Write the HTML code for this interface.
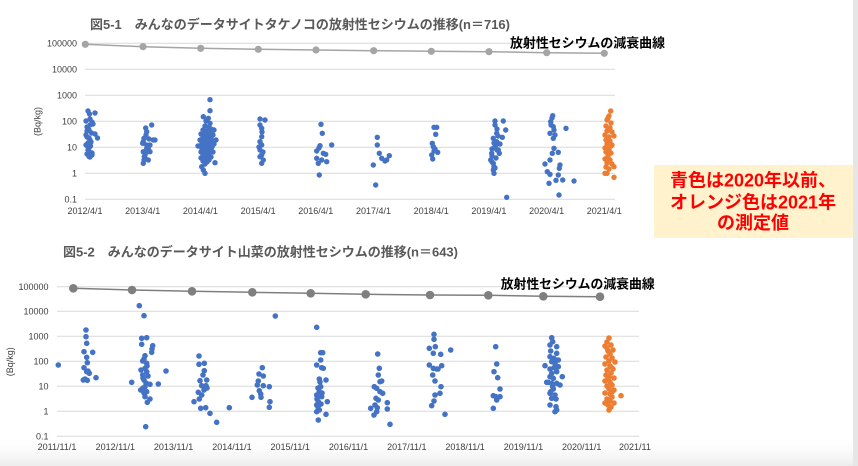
<!DOCTYPE html>
<html><head><meta charset="utf-8"><style>
html,body{margin:0;padding:0;background:#fff;}
svg{display:block;}
text{font-family:"Liberation Sans","Noto Sans CJK JP",sans-serif;}
</style></head><body>
<svg width="858" height="466" viewBox="0 0 858 466" xmlns="http://www.w3.org/2000/svg">
<defs>
<linearGradient id="bg" x1="0" y1="0" x2="0" y2="1"><stop offset="0" stop-color="#ffffff" stop-opacity="0"/><stop offset="1" stop-color="#ececec"/></linearGradient>
</defs>
<rect x="0" y="0" width="858" height="466" fill="#fff"/>
<rect x="0" y="436" width="853" height="30" fill="url(#bg)"/>
<rect x="853" y="0" width="5" height="466" fill="#e6e6e6"/>

<!-- TOP CHART -->
<text x="90" y="29" font-size="13" font-weight="bold" fill="#595959" textLength="420" lengthAdjust="spacingAndGlyphs">図5-1　みんなのデータサイトタケノコの放射性セシウムの推移(n＝716)</text>
<g stroke="#d9d9d9" stroke-width="1">
<line x1="85" y1="43.3" x2="615" y2="43.3"/><line x1="85" y1="69.3" x2="615" y2="69.3"/><line x1="85" y1="95.3" x2="615" y2="95.3"/><line x1="85" y1="121.3" x2="615" y2="121.3"/><line x1="85" y1="147.3" x2="615" y2="147.3"/><line x1="85" y1="173.3" x2="615" y2="173.3"/><line x1="85" y1="199.3" x2="615" y2="199.3"/>
</g>
<g font-size="9" fill="#404040" text-anchor="end">
<text x="77" y="46.5">100000</text><text x="77" y="72.5">10000</text><text x="77" y="98.5">1000</text><text x="77" y="124.5">100</text><text x="77" y="150.5">10</text><text x="77" y="176.5">1</text><text x="77" y="202.5">0.1</text>
</g>
<text transform="translate(40.5,121.5) rotate(-90)" font-size="9" fill="#404040" text-anchor="middle">(Bq/kg)</text>
<g font-size="9" fill="#404040" text-anchor="middle">
<text x="85" y="214">2012/4/1</text><text x="142.7" y="214">2013/4/1</text><text x="200.4" y="214">2014/4/1</text><text x="258.1" y="214">2015/4/1</text><text x="315.8" y="214">2016/4/1</text><text x="373.5" y="214">2017/4/1</text><text x="431.2" y="214">2018/4/1</text><text x="488.9" y="214">2019/4/1</text><text x="546.6" y="214">2020/4/1</text><text x="604.3" y="214">2021/4/1</text>
</g>
<polyline points="85.3,44.3 143,46.7 200.7,48.3 258.3,49.3 316,50 373.7,50.7 431.3,51.3 489,51.7 546.7,52.7 604.3,53.3" fill="none" stroke="#a5a5a5" stroke-width="1.5"/>
<g fill="#a5a5a5">
<circle cx="85.3" cy="44.3" r="3.6"/><circle cx="143" cy="46.7" r="3.6"/><circle cx="200.7" cy="48.3" r="3.6"/><circle cx="258.3" cy="49.3" r="3.6"/><circle cx="316" cy="50" r="3.6"/><circle cx="373.7" cy="50.7" r="3.6"/><circle cx="431.3" cy="51.3" r="3.6"/><circle cx="489" cy="51.7" r="3.6"/><circle cx="546.7" cy="52.7" r="3.6"/><circle cx="604.3" cy="53.3" r="3.6"/>
</g>
<text x="510" y="47.5" font-size="13" font-weight="bold" fill="#000" textLength="155" lengthAdjust="spacingAndGlyphs">放射性セシウムの減衰曲線</text>

<g fill="#4472c4">
<!-- 2012 -->
<circle cx="88" cy="111" r="2.7"/><circle cx="89.5" cy="114" r="2.7"/><circle cx="95" cy="113" r="2.7"/><circle cx="86" cy="121" r="2.7"/><circle cx="90" cy="119" r="2.7"/><circle cx="92" cy="122" r="2.7"/><circle cx="93" cy="124" r="2.7"/><circle cx="87" cy="127" r="2.7"/><circle cx="89" cy="130" r="2.7"/><circle cx="86" cy="135" r="2.7"/><circle cx="91.5" cy="133" r="2.7"/><circle cx="95" cy="134" r="2.7"/><circle cx="97.5" cy="138" r="2.7"/><circle cx="87" cy="137" r="2.7"/><circle cx="90" cy="140" r="2.7"/><circle cx="88" cy="143" r="2.7"/><circle cx="90.5" cy="146" r="2.7"/><circle cx="88" cy="150" r="2.7"/><circle cx="90" cy="152.5" r="2.7"/><circle cx="87" cy="154" r="2.7"/><circle cx="89" cy="156.5" r="2.7"/><circle cx="92" cy="155" r="2.7"/><circle cx="88" cy="147" r="2.7"/><circle cx="91" cy="142" r="2.7"/><circle cx="89" cy="138" r="2.7"/><circle cx="87" cy="131" r="2.7"/><circle cx="90" cy="125" r="2.7"/><circle cx="86" cy="145" r="2.7"/><circle cx="89" cy="148" r="2.7"/><circle cx="92" cy="153" r="2.7"/><circle cx="90" cy="157" r="2.7"/>
<!-- 2013 -->
<circle cx="145.7" cy="128" r="2.7"/><circle cx="151.7" cy="125" r="2.7"/><circle cx="146.7" cy="131.7" r="2.7"/><circle cx="144" cy="138.3" r="2.7"/><circle cx="153.3" cy="140" r="2.7"/><circle cx="155" cy="140" r="2.7"/><circle cx="143.3" cy="141.7" r="2.7"/><circle cx="142.7" cy="143.3" r="2.7"/><circle cx="146.7" cy="145" r="2.7"/><circle cx="150" cy="145" r="2.7"/><circle cx="148.3" cy="148.3" r="2.7"/><circle cx="146.7" cy="148.3" r="2.7"/><circle cx="150" cy="151.7" r="2.7"/><circle cx="143.3" cy="151.7" r="2.7"/><circle cx="145" cy="155" r="2.7"/><circle cx="144.3" cy="156.7" r="2.7"/><circle cx="148.3" cy="160" r="2.7"/><circle cx="143.3" cy="163.3" r="2.7"/><circle cx="144" cy="160" r="2.7"/><circle cx="146" cy="135" r="2.7"/><circle cx="145" cy="158" r="2.7"/><circle cx="147" cy="152" r="2.7"/><circle cx="149" cy="139" r="2.7"/>
<!-- 2014 -->
<circle cx="210" cy="99.7" r="2.7"/><circle cx="210" cy="110.7" r="2.7"/><circle cx="203.3" cy="116.7" r="2.7"/><circle cx="208.3" cy="118.3" r="2.7"/><circle cx="210" cy="123.3" r="2.7"/><circle cx="206" cy="121" r="2.7"/>
<circle cx="205" cy="126" r="2.7"/><circle cx="209" cy="127" r="2.7"/><circle cx="211" cy="129" r="2.7"/><circle cx="203" cy="130" r="2.7"/><circle cx="207" cy="131" r="2.7"/><circle cx="212" cy="132" r="2.7"/><circle cx="201" cy="134" r="2.7"/><circle cx="205" cy="134" r="2.7"/><circle cx="209" cy="135" r="2.7"/><circle cx="213" cy="135" r="2.7"/><circle cx="203" cy="137" r="2.7"/><circle cx="207" cy="138" r="2.7"/><circle cx="211" cy="138" r="2.7"/><circle cx="200" cy="140" r="2.7"/><circle cx="204" cy="140" r="2.7"/><circle cx="208" cy="141" r="2.7"/><circle cx="212" cy="141" r="2.7"/><circle cx="202" cy="143" r="2.7"/><circle cx="206" cy="143" r="2.7"/><circle cx="210" cy="144" r="2.7"/><circle cx="214" cy="144" r="2.7"/><circle cx="200" cy="146" r="2.7"/><circle cx="204" cy="146" r="2.7"/><circle cx="208" cy="147" r="2.7"/><circle cx="212" cy="147" r="2.7"/><circle cx="202" cy="149" r="2.7"/><circle cx="206" cy="150" r="2.7"/><circle cx="210" cy="150" r="2.7"/><circle cx="201" cy="152" r="2.7"/><circle cx="205" cy="153" r="2.7"/><circle cx="209" cy="153" r="2.7"/><circle cx="213" cy="152" r="2.7"/><circle cx="203" cy="155" r="2.7"/><circle cx="207" cy="156" r="2.7"/><circle cx="211" cy="157" r="2.7"/><circle cx="201" cy="158" r="2.7"/><circle cx="205" cy="159" r="2.7"/><circle cx="209" cy="160" r="2.7"/><circle cx="203" cy="161" r="2.7"/><circle cx="207" cy="162" r="2.7"/><circle cx="215" cy="162.7" r="2.7"/><circle cx="201.7" cy="166.7" r="2.7"/><circle cx="205" cy="164" r="2.7"/><circle cx="203.3" cy="170" r="2.7"/><circle cx="205" cy="173.3" r="2.7"/><circle cx="198" cy="146" r="2.7"/><circle cx="216" cy="140" r="2.7"/><circle cx="214" cy="130" r="2.7"/>
<!-- 2015 -->
<circle cx="260" cy="119" r="2.7"/><circle cx="265" cy="120" r="2.7"/><circle cx="260" cy="125" r="2.7"/><circle cx="261.7" cy="128.3" r="2.7"/><circle cx="261.7" cy="136.7" r="2.7"/><circle cx="260" cy="141.7" r="2.7"/><circle cx="261.7" cy="145" r="2.7"/><circle cx="260" cy="150" r="2.7"/><circle cx="261.7" cy="155" r="2.7"/><circle cx="263.3" cy="160" r="2.7"/><circle cx="261.7" cy="163.3" r="2.7"/><circle cx="260" cy="156.7" r="2.7"/><circle cx="259" cy="147" r="2.7"/><circle cx="262" cy="132" r="2.7"/><circle cx="263" cy="152" r="2.7"/>
<!-- 2016 -->
<circle cx="321" cy="124.3" r="2.7"/><circle cx="322.3" cy="133.3" r="2.7"/><circle cx="331.7" cy="145" r="2.7"/><circle cx="320" cy="145.7" r="2.7"/><circle cx="316.7" cy="151" r="2.7"/><circle cx="323.3" cy="153.3" r="2.7"/><circle cx="325.7" cy="154.3" r="2.7"/><circle cx="316.7" cy="158.3" r="2.7"/><circle cx="321.7" cy="160" r="2.7"/><circle cx="326.7" cy="161.7" r="2.7"/><circle cx="318.3" cy="163.3" r="2.7"/><circle cx="319.3" cy="175" r="2.7"/><circle cx="319" cy="148" r="2.7"/>
<!-- 2017 -->
<circle cx="377.3" cy="137.3" r="2.7"/><circle cx="377.3" cy="145" r="2.7"/><circle cx="379.3" cy="153.3" r="2.7"/><circle cx="381.7" cy="158.3" r="2.7"/><circle cx="385" cy="161" r="2.7"/><circle cx="386.7" cy="160" r="2.7"/><circle cx="389.3" cy="155.7" r="2.7"/><circle cx="373.3" cy="165" r="2.7"/><circle cx="375.7" cy="185" r="2.7"/>
<!-- 2018 -->
<circle cx="436.7" cy="127.3" r="2.7"/><circle cx="434" cy="127.3" r="2.7"/><circle cx="435.7" cy="134.3" r="2.7"/><circle cx="432.3" cy="143.3" r="2.7"/><circle cx="433.3" cy="146.7" r="2.7"/><circle cx="435" cy="149" r="2.7"/><circle cx="437.7" cy="152.3" r="2.7"/><circle cx="431.7" cy="155" r="2.7"/><circle cx="432.7" cy="159" r="2.7"/><circle cx="434" cy="151" r="2.7"/>
<!-- 2019 -->
<circle cx="495" cy="121" r="2.7"/><circle cx="503.3" cy="121" r="2.7"/><circle cx="495" cy="125" r="2.7"/><circle cx="505.7" cy="130" r="2.7"/><circle cx="496.7" cy="133.3" r="2.7"/><circle cx="502.3" cy="137.3" r="2.7"/><circle cx="493.3" cy="138.3" r="2.7"/><circle cx="496.7" cy="141.7" r="2.7"/><circle cx="495" cy="146.7" r="2.7"/><circle cx="498.3" cy="150" r="2.7"/><circle cx="491.7" cy="153.3" r="2.7"/><circle cx="499.3" cy="153.3" r="2.7"/><circle cx="490.7" cy="160" r="2.7"/><circle cx="493.3" cy="163.3" r="2.7"/><circle cx="494" cy="166.7" r="2.7"/><circle cx="493.3" cy="170" r="2.7"/><circle cx="494" cy="173.3" r="2.7"/><circle cx="506.7" cy="197.3" r="2.7"/><circle cx="497" cy="129" r="2.7"/><circle cx="498" cy="136" r="2.7"/><circle cx="494" cy="143" r="2.7"/><circle cx="496" cy="145" r="2.7"/><circle cx="492" cy="156" r="2.7"/><circle cx="496" cy="158" r="2.7"/><circle cx="492" cy="162" r="2.7"/><circle cx="495" cy="168" r="2.7"/><circle cx="500" cy="144" r="2.7"/><circle cx="497" cy="150" r="2.7"/><circle cx="492" cy="149" r="2.7"/>
<!-- 2020 -->
<circle cx="552.7" cy="115.7" r="2.7"/><circle cx="550.7" cy="121.7" r="2.7"/><circle cx="553.3" cy="126.7" r="2.7"/><circle cx="566" cy="128.3" r="2.7"/><circle cx="550" cy="133.3" r="2.7"/><circle cx="553.3" cy="138.3" r="2.7"/><circle cx="554" cy="148.3" r="2.7"/><circle cx="552.3" cy="153.3" r="2.7"/><circle cx="558.3" cy="152.3" r="2.7"/><circle cx="550" cy="160" r="2.7"/><circle cx="545" cy="164" r="2.7"/><circle cx="560" cy="165" r="2.7"/><circle cx="559.3" cy="168.3" r="2.7"/><circle cx="547.3" cy="171.7" r="2.7"/><circle cx="550" cy="174.3" r="2.7"/><circle cx="558.3" cy="175" r="2.7"/><circle cx="556" cy="180.3" r="2.7"/><circle cx="562.7" cy="180" r="2.7"/><circle cx="549" cy="183.3" r="2.7"/><circle cx="574" cy="181" r="2.7"/><circle cx="559" cy="195" r="2.7"/><circle cx="552" cy="118" r="2.7"/><circle cx="554" cy="130" r="2.7"/><circle cx="551" cy="125" r="2.7"/><circle cx="555" cy="135" r="2.7"/>
</g>
<g fill="#ed7d31">
<circle cx="610.7" cy="111" r="2.7"/><circle cx="609" cy="116" r="2.7"/><circle cx="607" cy="120" r="2.7"/><circle cx="611" cy="123" r="2.7"/><circle cx="606" cy="126" r="2.7"/><circle cx="610" cy="128" r="2.7"/><circle cx="607" cy="131" r="2.7"/><circle cx="612" cy="132" r="2.7"/><circle cx="605" cy="135" r="2.7"/><circle cx="609" cy="137" r="2.7"/><circle cx="614" cy="136" r="2.7"/><circle cx="606" cy="140" r="2.7"/><circle cx="610" cy="141" r="2.7"/><circle cx="607" cy="144" r="2.7"/><circle cx="612" cy="145" r="2.7"/><circle cx="605" cy="148" r="2.7"/><circle cx="609" cy="149" r="2.7"/><circle cx="606" cy="152" r="2.7"/><circle cx="611" cy="153" r="2.7"/><circle cx="608" cy="156" r="2.7"/><circle cx="605" cy="159" r="2.7"/><circle cx="610" cy="160" r="2.7"/><circle cx="607" cy="163" r="2.7"/><circle cx="612" cy="164" r="2.7"/><circle cx="606" cy="167" r="2.7"/><circle cx="609" cy="169" r="2.7"/><circle cx="614" cy="166.7" r="2.7"/><circle cx="605" cy="173.3" r="2.7"/><circle cx="607" cy="173.3" r="2.7"/><circle cx="614" cy="177.3" r="2.7"/><circle cx="608" cy="118" r="2.7"/><circle cx="611" cy="146" r="2.7"/><circle cx="608" cy="160" r="2.7"/>
</g>

<!-- NOTE BOX -->
<rect x="654" y="165" width="199" height="73" fill="#fff2cc"/>
<g font-size="18" font-weight="bold" fill="#ff0000" text-anchor="middle">
<text x="753" y="186.5">青色は2020年以前、</text>
<text x="753" y="208.5">オレンジ色は2021年</text>
<text x="753" y="229">の測定値</text>
</g>

<!-- BOTTOM CHART -->
<text x="63" y="256.5" font-size="13" font-weight="bold" fill="#595959" textLength="395" lengthAdjust="spacingAndGlyphs">図5-2　みんなのデータサイト山菜の放射性セシウムの推移(n＝643)</text>
<g stroke="#d9d9d9" stroke-width="1">
<line x1="57" y1="286.7" x2="639" y2="286.7"/><line x1="57" y1="311.3" x2="639" y2="311.3"/><line x1="57" y1="336.3" x2="639" y2="336.3"/><line x1="57" y1="361.3" x2="639" y2="361.3"/><line x1="57" y1="386.3" x2="639" y2="386.3"/><line x1="57" y1="411.3" x2="639" y2="411.3"/><line x1="57" y1="436.3" x2="639" y2="436.3"/>
</g>
<g font-size="9" fill="#404040" text-anchor="end">
<text x="48.5" y="289.9">100000</text><text x="48.5" y="314.5">10000</text><text x="48.5" y="339.5">1000</text><text x="48.5" y="364.5">100</text><text x="48.5" y="389.5">10</text><text x="48.5" y="414.5">1</text><text x="48.5" y="439.5">0.1</text>
</g>
<text transform="translate(13,361.7) rotate(-90)" font-size="9" fill="#404040" text-anchor="middle">(Bq/kg)</text>
<g font-size="9" fill="#404040" text-anchor="middle">
<text x="57" y="450">2011/11/1</text><text x="115.3" y="450">2012/11/1</text><text x="173.6" y="450">2013/11/1</text><text x="231.9" y="450">2014/11/1</text><text x="290.2" y="450">2015/11/1</text><text x="348.5" y="450">2016/11/1</text><text x="406.8" y="450">2017/11/1</text><text x="465.1" y="450">2018/11/1</text><text x="523.4" y="450">2019/11/1</text><text x="581.7" y="450">2020/11/1</text>
</g>
<text x="619" y="450" font-size="9" fill="#404040">2021/11</text>
<polyline points="73.3,288.3 132,290 192,291.3 252.3,292.3 310.7,293.3 365.7,294.3 430,295 488.3,295.3 543.3,296.3 600,296.7" fill="none" stroke="#7f7f7f" stroke-width="1.5"/>
<g fill="#7f7f7f">
<circle cx="73.3" cy="288.3" r="4.3"/><circle cx="132" cy="290" r="4.3"/><circle cx="192" cy="291.3" r="4.3"/><circle cx="252.3" cy="292.3" r="4.3"/><circle cx="310.7" cy="293.3" r="4.3"/><circle cx="365.7" cy="294.3" r="4.3"/><circle cx="430" cy="295" r="4.3"/><circle cx="488.3" cy="295.3" r="4.3"/><circle cx="543.3" cy="296.3" r="4.3"/><circle cx="600" cy="296.7" r="4.3"/>
</g>
<text x="500.7" y="288.3" font-size="13" font-weight="bold" fill="#000" textLength="154" lengthAdjust="spacingAndGlyphs">放射性セシウムの減衰曲線</text>

<g fill="#4472c4">
<circle cx="58.3" cy="365" r="2.8"/>
<!-- 2012 -->
<circle cx="86" cy="330" r="2.8"/><circle cx="86" cy="336.7" r="2.8"/><circle cx="86.7" cy="343.3" r="2.8"/><circle cx="84" cy="351.7" r="2.8"/><circle cx="92.7" cy="352.3" r="2.8"/><circle cx="86.7" cy="357.3" r="2.8"/><circle cx="87.3" cy="362.7" r="2.8"/><circle cx="84" cy="367.7" r="2.8"/><circle cx="86.7" cy="371.7" r="2.8"/><circle cx="89.3" cy="373.3" r="2.8"/><circle cx="96" cy="377.7" r="2.8"/><circle cx="83.3" cy="380" r="2.8"/><circle cx="87.3" cy="380.3" r="2.8"/><circle cx="88" cy="371" r="2.8"/><circle cx="85" cy="379" r="2.8"/>
<!-- 2013 -->
<circle cx="139.3" cy="305.7" r="2.8"/><circle cx="144" cy="315.7" r="2.8"/><circle cx="141.7" cy="338.3" r="2.8"/><circle cx="146.7" cy="337.7" r="2.8"/><circle cx="141.7" cy="344.3" r="2.8"/><circle cx="152.7" cy="345.7" r="2.8"/><circle cx="151.7" cy="352.3" r="2.8"/><circle cx="145" cy="355.7" r="2.8"/><circle cx="142.7" cy="361" r="2.8"/><circle cx="146.7" cy="363.3" r="2.8"/><circle cx="145" cy="368.3" r="2.8"/><circle cx="166" cy="371" r="2.8"/><circle cx="146.7" cy="371.7" r="2.8"/><circle cx="142.7" cy="375" r="2.8"/><circle cx="144" cy="380" r="2.8"/><circle cx="131.7" cy="382.3" r="2.8"/><circle cx="150" cy="384.3" r="2.8"/><circle cx="158.3" cy="384" r="2.8"/><circle cx="145" cy="386.7" r="2.8"/><circle cx="140.7" cy="390" r="2.8"/><circle cx="146.7" cy="391.7" r="2.8"/><circle cx="145" cy="396.7" r="2.8"/><circle cx="150" cy="399" r="2.8"/><circle cx="147.3" cy="402.3" r="2.8"/><circle cx="145.7" cy="426.7" r="2.8"/><circle cx="144" cy="359" r="2.8"/><circle cx="147" cy="366" r="2.8"/><circle cx="143" cy="378" r="2.8"/><circle cx="146" cy="383" r="2.8"/><circle cx="143" cy="388" r="2.8"/><circle cx="148" cy="376" r="2.8"/><circle cx="144" cy="393" r="2.8"/><circle cx="152" cy="349" r="2.8"/><circle cx="141" cy="370" r="2.8"/>
<!-- 2014 -->
<circle cx="199" cy="356" r="2.8"/><circle cx="199" cy="364.3" r="2.8"/><circle cx="204.3" cy="363.3" r="2.8"/><circle cx="204.3" cy="370.7" r="2.8"/><circle cx="200" cy="380.7" r="2.8"/><circle cx="206.7" cy="380" r="2.8"/><circle cx="201.7" cy="385.7" r="2.8"/><circle cx="206" cy="385.7" r="2.8"/><circle cx="204" cy="390" r="2.8"/><circle cx="198.3" cy="392.3" r="2.8"/><circle cx="201.7" cy="395" r="2.8"/><circle cx="199.3" cy="399" r="2.8"/><circle cx="194" cy="401.7" r="2.8"/><circle cx="200.7" cy="408.3" r="2.8"/><circle cx="205.7" cy="407.7" r="2.8"/><circle cx="210" cy="413.3" r="2.8"/><circle cx="216.7" cy="422.3" r="2.8"/><circle cx="229.3" cy="407.7" r="2.8"/><circle cx="203" cy="375" r="2.8"/><circle cx="207" cy="388" r="2.8"/>
<!-- 2015 -->
<circle cx="275.3" cy="316" r="2.8"/><circle cx="262.3" cy="367.7" r="2.8"/><circle cx="259" cy="374" r="2.8"/><circle cx="263.3" cy="376" r="2.8"/><circle cx="258.3" cy="381" r="2.8"/><circle cx="257.3" cy="385" r="2.8"/><circle cx="263.3" cy="385.7" r="2.8"/><circle cx="269.3" cy="386.7" r="2.8"/><circle cx="259.3" cy="390.7" r="2.8"/><circle cx="260.7" cy="394" r="2.8"/><circle cx="252" cy="397.3" r="2.8"/><circle cx="261" cy="397.3" r="2.8"/><circle cx="270" cy="401.7" r="2.8"/><circle cx="269.3" cy="407.3" r="2.8"/>
<!-- 2016 -->
<circle cx="316.7" cy="327.3" r="2.8"/><circle cx="320.7" cy="352.7" r="2.8"/><circle cx="322.7" cy="352.7" r="2.8"/><circle cx="320.7" cy="360" r="2.8"/><circle cx="316.7" cy="365" r="2.8"/><circle cx="321.7" cy="367.7" r="2.8"/><circle cx="323.3" cy="368.3" r="2.8"/><circle cx="319.3" cy="379" r="2.8"/><circle cx="326" cy="380" r="2.8"/><circle cx="320.7" cy="386.7" r="2.8"/><circle cx="319.3" cy="391.7" r="2.8"/><circle cx="316.7" cy="395" r="2.8"/><circle cx="321.7" cy="396.7" r="2.8"/><circle cx="318.3" cy="401.7" r="2.8"/><circle cx="327.3" cy="401.7" r="2.8"/><circle cx="316.7" cy="405" r="2.8"/><circle cx="319.3" cy="410" r="2.8"/><circle cx="316.7" cy="411.7" r="2.8"/><circle cx="326" cy="414.3" r="2.8"/><circle cx="318.3" cy="420" r="2.8"/><circle cx="320" cy="382" r="2.8"/><circle cx="318" cy="388" r="2.8"/><circle cx="322" cy="393" r="2.8"/><circle cx="317" cy="399" r="2.8"/><circle cx="321" cy="404" r="2.8"/><circle cx="318" cy="407" r="2.8"/>
<!-- 2017 -->
<circle cx="377.7" cy="354" r="2.8"/><circle cx="379.3" cy="368.3" r="2.8"/><circle cx="378.3" cy="375" r="2.8"/><circle cx="380" cy="381.7" r="2.8"/><circle cx="381.7" cy="381" r="2.8"/><circle cx="374.3" cy="386.7" r="2.8"/><circle cx="376.7" cy="388.3" r="2.8"/><circle cx="380" cy="391.7" r="2.8"/><circle cx="382.7" cy="393.3" r="2.8"/><circle cx="376" cy="398.3" r="2.8"/><circle cx="378.3" cy="400" r="2.8"/><circle cx="387.3" cy="402.7" r="2.8"/><circle cx="375" cy="405" r="2.8"/><circle cx="377.3" cy="407.7" r="2.8"/><circle cx="370.7" cy="408.3" r="2.8"/><circle cx="387.3" cy="409" r="2.8"/><circle cx="376.7" cy="411.7" r="2.8"/><circle cx="374" cy="415" r="2.8"/><circle cx="390" cy="424.3" r="2.8"/>
<!-- 2018 -->
<circle cx="434" cy="334.3" r="2.8"/><circle cx="434" cy="339.3" r="2.8"/><circle cx="429.3" cy="348.3" r="2.8"/><circle cx="435.3" cy="346.7" r="2.8"/><circle cx="450.7" cy="350" r="2.8"/><circle cx="433.3" cy="353.3" r="2.8"/><circle cx="440.7" cy="354.3" r="2.8"/><circle cx="429.3" cy="365" r="2.8"/><circle cx="441.7" cy="365.7" r="2.8"/><circle cx="433.3" cy="368.3" r="2.8"/><circle cx="436.7" cy="369" r="2.8"/><circle cx="432.7" cy="375" r="2.8"/><circle cx="435" cy="381" r="2.8"/><circle cx="441" cy="386.7" r="2.8"/><circle cx="440" cy="393.3" r="2.8"/><circle cx="435" cy="395" r="2.8"/><circle cx="434" cy="401" r="2.8"/><circle cx="431.7" cy="405.7" r="2.8"/><circle cx="445" cy="414.3" r="2.8"/><circle cx="438" cy="369" r="2.8"/>
<!-- 2019 -->
<circle cx="495.7" cy="346.7" r="2.8"/><circle cx="496.7" cy="364" r="2.8"/><circle cx="494" cy="371.7" r="2.8"/><circle cx="497.7" cy="377.7" r="2.8"/><circle cx="500" cy="389" r="2.8"/><circle cx="493.3" cy="395.7" r="2.8"/><circle cx="496" cy="396.7" r="2.8"/><circle cx="500" cy="396.7" r="2.8"/><circle cx="496.7" cy="400" r="2.8"/><circle cx="493.3" cy="408.3" r="2.8"/>
<!-- 2020 -->
<circle cx="551.7" cy="337.7" r="2.8"/><circle cx="552.7" cy="341.7" r="2.8"/><circle cx="550" cy="345" r="2.8"/><circle cx="556.7" cy="346.7" r="2.8"/><circle cx="550.7" cy="351" r="2.8"/><circle cx="556.7" cy="353.3" r="2.8"/><circle cx="550" cy="356.7" r="2.8"/><circle cx="554" cy="358.3" r="2.8"/><circle cx="558.3" cy="360" r="2.8"/><circle cx="551.7" cy="361.7" r="2.8"/><circle cx="545" cy="365.7" r="2.8"/><circle cx="555" cy="363.3" r="2.8"/><circle cx="550" cy="369" r="2.8"/><circle cx="556.7" cy="371.7" r="2.8"/><circle cx="562.3" cy="376.7" r="2.8"/><circle cx="550" cy="376.7" r="2.8"/><circle cx="553.3" cy="378.3" r="2.8"/><circle cx="548.3" cy="382.3" r="2.8"/><circle cx="551.7" cy="383.3" r="2.8"/><circle cx="556.7" cy="383.3" r="2.8"/><circle cx="560" cy="385" r="2.8"/><circle cx="552.7" cy="386.7" r="2.8"/><circle cx="550" cy="393.3" r="2.8"/><circle cx="555" cy="395" r="2.8"/><circle cx="551.7" cy="398.3" r="2.8"/><circle cx="556" cy="399" r="2.8"/><circle cx="550" cy="405" r="2.8"/><circle cx="556" cy="406.7" r="2.8"/><circle cx="556.7" cy="410" r="2.8"/><circle cx="555" cy="411.7" r="2.8"/><circle cx="546.7" cy="382.3" r="2.8"/><circle cx="554" cy="367.7" r="2.8"/><circle cx="551.7" cy="373.3" r="2.8"/><circle cx="558.3" cy="366.7" r="2.8"/><circle cx="553.3" cy="389" r="2.8"/><circle cx="550.7" cy="391.7" r="2.8"/>
</g>
<g fill="#ed7d31">
<circle cx="609" cy="338" r="2.8"/><circle cx="607" cy="342" r="2.8"/><circle cx="611" cy="345" r="2.8"/><circle cx="605" cy="346" r="2.8"/><circle cx="613" cy="350" r="2.8"/><circle cx="608" cy="351" r="2.8"/><circle cx="610" cy="354" r="2.8"/><circle cx="606" cy="357" r="2.8"/><circle cx="612" cy="358" r="2.8"/><circle cx="609" cy="361" r="2.8"/><circle cx="615" cy="362" r="2.8"/><circle cx="605" cy="364" r="2.8"/><circle cx="610" cy="366" r="2.8"/><circle cx="613" cy="369" r="2.8"/><circle cx="607" cy="370" r="2.8"/><circle cx="611" cy="373" r="2.8"/><circle cx="606" cy="375" r="2.8"/><circle cx="609" cy="377" r="2.8"/><circle cx="614" cy="378" r="2.8"/><circle cx="605" cy="381" r="2.8"/><circle cx="610" cy="382" r="2.8"/><circle cx="612" cy="385" r="2.8"/><circle cx="607" cy="386" r="2.8"/><circle cx="609" cy="389" r="2.8"/><circle cx="614" cy="390" r="2.8"/><circle cx="605" cy="393" r="2.8"/><circle cx="610" cy="394" r="2.8"/><circle cx="612" cy="397" r="2.8"/><circle cx="607" cy="399" r="2.8"/><circle cx="610" cy="401" r="2.8"/><circle cx="605" cy="403" r="2.8"/><circle cx="614" cy="403" r="2.8"/><circle cx="608" cy="405" r="2.8"/><circle cx="611" cy="407" r="2.8"/><circle cx="609" cy="410" r="2.8"/><circle cx="621" cy="395.7" r="2.8"/><circle cx="607" cy="348" r="2.8"/><circle cx="611" cy="367" r="2.8"/><circle cx="608" cy="379" r="2.8"/><circle cx="612" cy="392" r="2.8"/>
</g>
</svg>
</body></html>
